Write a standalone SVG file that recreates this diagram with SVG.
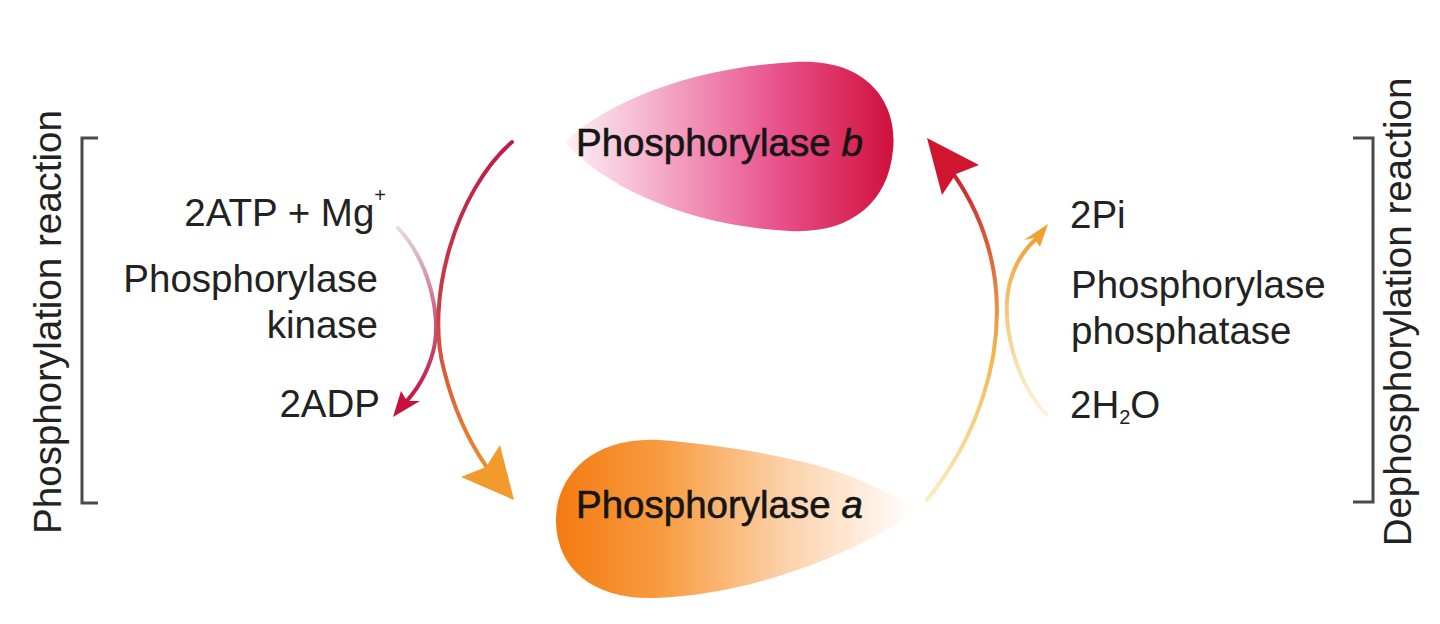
<svg xmlns="http://www.w3.org/2000/svg" width="1440" height="624" viewBox="0 0 1440 624">
<defs>
<style>
text{font-family:"Liberation Sans",Arial,Helvetica,sans-serif;fill:#222222;font-size:38.5px}
.rot{font-size:38.5px}
.node{font-size:38.5px;fill:#151515;stroke:#151515;stroke-width:0.6}
.br{fill:none;stroke:#4a4a4a;stroke-width:3}
.con{fill:none;stroke-width:4;stroke-linecap:round}
</style>
<linearGradient id="gb" x1="565" y1="0" x2="895" y2="0" gradientUnits="userSpaceOnUse">
<stop offset="0" stop-color="#fdf2f6"/>
<stop offset="0.3" stop-color="#f4a8c6"/>
<stop offset="0.65" stop-color="#e8508a"/>
<stop offset="1" stop-color="#d0103a"/>
</linearGradient>
<linearGradient id="ga" x1="555" y1="0" x2="915" y2="0" gradientUnits="userSpaceOnUse">
<stop offset="0" stop-color="#f47a10"/>
<stop offset="0.3" stop-color="#f89c42"/>
<stop offset="0.65" stop-color="#fcd3ac"/>
<stop offset="1" stop-color="#ffffff"/>
</linearGradient>
<linearGradient id="g1" x1="0" y1="142" x2="0" y2="480" gradientUnits="userSpaceOnUse">
<stop offset="0" stop-color="#c01a48"/>
<stop offset="0.5" stop-color="#c84048"/>
<stop offset="1" stop-color="#f0902a"/>
</linearGradient>
<linearGradient id="g2" x1="0" y1="228" x2="0" y2="410" gradientUnits="userSpaceOnUse">
<stop offset="0" stop-color="#e4dbe2"/>
<stop offset="0.5" stop-color="#c85a80"/>
<stop offset="1" stop-color="#c0103e"/>
</linearGradient>
<linearGradient id="g3" x1="0" y1="500" x2="0" y2="165" gradientUnits="userSpaceOnUse">
<stop offset="0" stop-color="#fcecc0"/>
<stop offset="0.45" stop-color="#f2b448"/>
<stop offset="1" stop-color="#c81a30"/>
</linearGradient>
<linearGradient id="g4" x1="0" y1="415" x2="0" y2="236" gradientUnits="userSpaceOnUse">
<stop offset="0" stop-color="#fdf3e0"/>
<stop offset="0.5" stop-color="#f5cf88"/>
<stop offset="1" stop-color="#f0a030"/>
</linearGradient>
</defs>
<rect width="1440" height="624" fill="#ffffff"/>

<g id="phosphorylase-b">
<path d="M565,142 C600,108 680,68 795,62 C870,58 898,105 893,150 C888,205 848,234 790,231 C690,226 605,188 565,142 Z" fill="url(#gb)"/>
<text class="node" x="576" y="156">Phosphorylase <tspan font-style="italic">b</tspan></text>
</g>

<g id="phosphorylase-a">
<path d="M915,512 C880,480 800,452 660,440 C590,436 555,478 556,522 C557,570 595,600 655,598 C760,594 860,550 915,512 Z" fill="url(#ga)"/>
<text class="node" x="576" y="518">Phosphorylase <tspan font-style="italic">a</tspan></text>
</g>

<g id="phosphorylation-labels">
<text x="386" y="226" text-anchor="end">2ATP + Mg<tspan dy="-24" font-size="20">+</tspan></text>
<text x="378" y="292" text-anchor="end">Phosphorylase</text>
<text x="378" y="338" text-anchor="end">kinase</text>
<text x="380" y="417" text-anchor="end">2ADP</text>
</g>

<g id="dephosphorylation-labels">
<text x="1070" y="228">2Pi</text>
<text x="1071" y="298">Phosphorylase</text>
<text x="1071" y="344">phosphatase</text>
<text x="1070" y="418">2H<tspan font-size="20" dy="6">2</tspan><tspan dy="-6">O</tspan></text>
</g>

<g id="phosphorylation-bracket">
<path class="br" d="M98,138 H82 V503 H98"/>
<text class="rot" transform="translate(61,322) rotate(-90)" text-anchor="middle">Phosphorylation reaction</text>
</g>

<g id="dephosphorylation-bracket">
<path class="br" d="M1353,138 H1373 V502 H1353"/>
<text class="rot" transform="translate(1411,312) rotate(-90)" text-anchor="middle">Dephosphorylation reaction</text>
</g>

<g id="connectors">
<path class="con" stroke="url(#g2)" stroke-width="3" d="M398,228 C430,262 442,318 433,352 C426,378 414,394 402,406"/>
<polygon points="393,417 401,391 407,401 420,401" fill="#c8103c"/>
<path class="con" stroke="url(#g1)" d="M512,142 C455,192 425,300 444,370 C454,410 468,440 486,466"/>
<polygon points="514,500 461,477 486,467 500,445" fill="#f39a2c"/>
<path class="con" stroke="url(#g4)" stroke-width="3" d="M1047,415 C1015,382 1000,322 1010,282 C1016,260 1028,246 1037,238"/>
<polygon points="1048,224 1024,240 1034,238 1040,247" fill="#f0a030"/>
<path class="con" stroke="url(#g3)" d="M927,500 C975,440 1005,360 995,280 C989,236 972,200 952,172"/>
<polygon points="927,138 979,165 956,174 942,195" fill="#d0162e"/>
</g>
</svg>
